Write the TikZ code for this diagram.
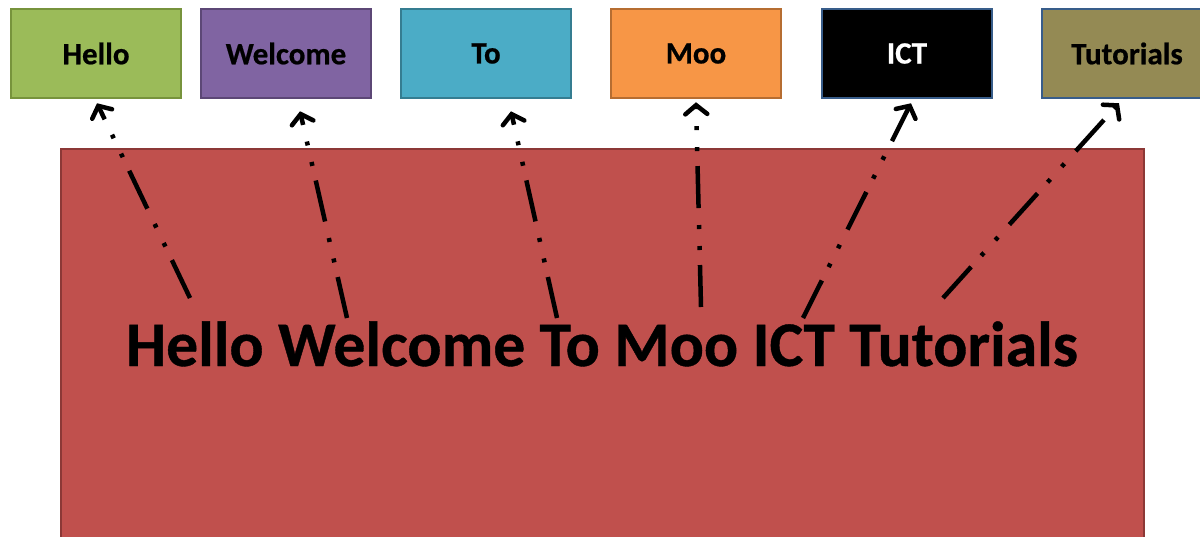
\documentclass[tikz,border=0pt]{standalone}
\usepackage{fontspec}
\setmainfont{Carlito}[BoldFeatures={FakeBold=0.6}]
\usetikzlibrary{arrows.meta,calc}
\definecolor{cgreen}{HTML}{9BBB59}\definecolor{bgreen}{HTML}{77933C}
\definecolor{cpurple}{HTML}{8064A2}\definecolor{bpurple}{HTML}{5C4776}
\definecolor{cblue}{HTML}{4BACC6}\definecolor{bblue}{HTML}{357D91}
\definecolor{corange}{HTML}{F79646}\definecolor{borange}{HTML}{B66D31}
\definecolor{bnavy}{HTML}{385D8A}
\definecolor{colive}{HTML}{948A54}
\definecolor{cred}{HTML}{C0504D}\definecolor{bred}{HTML}{8C3836}
\tikzset{
  wordbox/.style={draw, line width=2.5pt, minimum width=170pt, minimum height=89pt,
    inner sep=0pt, font=\fontsize{31}{36}\selectfont\bfseries},
  dd/.style={line width=4.5pt, dash pattern=on 42pt off 15pt on 4pt off 17pt on 4pt off 17pt,
    -{Straight Barb[length=9pt,width=22pt,line cap=round]}}
}
\begin{document}
\begin{tikzpicture}[x=1pt,y=-1pt]
\useasboundingbox (0,0) rectangle (1200,536);
\fill[white] (0,0) rectangle (1200,536);
\node[draw=bred, fill=cred, line width=2pt, minimum width=1083pt, minimum height=420pt, inner sep=0pt, anchor=north west] (bg) at (60,148) {};
\node[anchor=base, font=\fontsize{63.6}{70}\selectfont\bfseries] (main) at (602,366) {Hello Welcome To Moo ICT Tutorials};
\node[wordbox, draw=bgreen, fill=cgreen] (hello) at (96,53.5) {Hello};
\node[wordbox, draw=bpurple, fill=cpurple] (welcome) at (286,53.5) {Welcome};
\node[wordbox, draw=bblue, fill=cblue] (to) at (486,53.5) {To};
\node[wordbox, draw=borange, fill=corange] (moo) at (696,53.5) {Moo};
\node[wordbox, draw=bnavy, fill=black, text=white] (ict) at (907,53.5) {ICT};
\node[wordbox, draw=bnavy, fill=colive] (tut) at (1127,53.5) {Tutorials};
\coordinate (s1) at (190,298);
\coordinate (s2) at (347,318);
\coordinate (s3) at (557,318);
\coordinate (s4) at (701,307);
\coordinate (s5) at (803,318);
\coordinate (s6) at (943,298);
\draw[dd] (s1) -- ($(hello.south)+(1,4)$);
\draw[dd] (s2) -- ($(welcome.south)+(14,12)$);
\draw[dd] (s3) -- ($(to.south)+(25,12)$);
\draw[dd] (s4) -- ($(moo.south)+(0,3)$);
\draw[dd] (s5) -- ($(ict.south)+(4,4)$);
\draw[dd] (s6) -- ($(tut.south)+(-8,4)$);
\end{tikzpicture}
\end{document}
